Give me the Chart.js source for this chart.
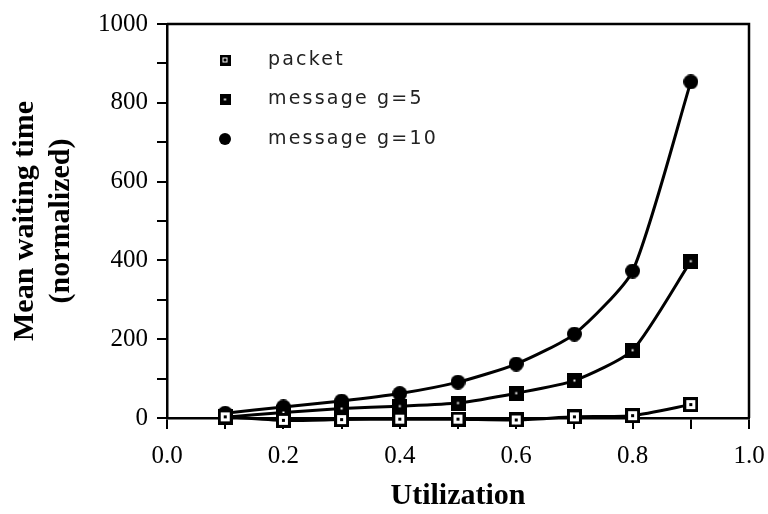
<!DOCTYPE html>
<html>
<head>
<meta charset="utf-8">
<script src="https://cdn.jsdelivr.net/npm/chart.js@4.4.1/dist/chart.umd.min.js"></script>
<style>
    html, body { margin: 0; padding: 0; background: #fff; }
    #wrap { width: 768px; height: 514px; }
</style>
</head>
<body>
<div id="wrap"><canvas id="myWaitChart" width="768" height="514"></canvas></div>
<script>
// Mean waiting time vs utilization
const utilization = [0.1, 0.2, 0.3, 0.4, 0.5, 0.6, 0.7, 0.8, 0.9]
const packetWait = [3, -6, -4, -3, -3, -5, 3, 6, 34]
const messageG5Wait = [2, 14, 24, 30, 38, 63, 95, 172, 398]
const messageG10Wait = [12, 28, 43, 62, 91, 137, 213, 373, 853]
const seriesLabels = ["packet", "message g=5", "message g=10"]
const xTitle = "Utilization"
const yTitle = ["Mean waiting time", "(normalized)"]

// little bitmap markers like the original plot
function makeMarker(kind, size) {
    const c = document.createElement("canvas")
    c.width = size
    c.height = size
    const g = c.getContext("2d")
    const m = size / 2
    g.fillStyle = "#000"
    if (kind === "circle") {
        g.beginPath()
        g.arc(m, m, m, 0, Math.PI * 2)
        g.fill()
    } else if (kind === "open") {
        g.fillRect(0, 0, size, size)
        g.fillStyle = "#fff"
        g.fillRect(3, 3, size - 6, size - 6)
        g.fillStyle = "#000"
        g.fillRect(m - 1.5, m - 1.5, 3, 3)
    } else {
        g.fillRect(0, 0, size, size)
        g.fillStyle = "#fff"
        g.fillRect(m - 1, m - 1, 2, 2)
    }
    return c
}

const chartMarkers = [makeMarker("open", 15), makeMarker("filled", 15), makeMarker("circle", 15)]
const legendMarkers = [makeMarker("open", 11), makeMarker("filled", 11), makeMarker("circle", 12)]

function points(values) {
    return utilization.map((u, i) => ({ x: u, y: values[i] }))
}

const allSeries = [packetWait, messageG5Wait, messageG10Wait]
const datasets = allSeries.map((vals, i) => ({
    label: seriesLabels[i],
    data: points(vals),
    borderColor: "#000",
    borderWidth: 3,
    pointStyle: chartMarkers[i],
    pointRadius: 8,
    tension: 0.2,
    clip: false,
}))

// frame on top and right side
const framePlugin = {
    id: "frame",
    beforeDatasetsDraw(chart) {
        const a = chart.chartArea
        const ctx = chart.ctx
        ctx.save()
        ctx.strokeStyle = "#000"
        ctx.lineWidth = 2.5
        ctx.beginPath()
        ctx.moveTo(a.left, a.top)
        ctx.lineTo(a.right, a.top)
        ctx.lineTo(a.right, a.bottom)
        ctx.stroke()
        ctx.restore()
    },
}

// legend sits inside the plot, upper left
const insideLegend = {
    id: "insideLegend",
    afterDraw(chart) {
        const a = chart.chartArea
        const ctx = chart.ctx
        ctx.save()
        ctx.font = "19px 'DejaVu Sans'"
        ctx.letterSpacing = "2.2px"
        ctx.fillStyle = "#222"
        ctx.textBaseline = "middle"
        seriesLabels.forEach((lab, i) => {
            const y = a.top + 36 + i * 39.5
            const mk = legendMarkers[i]
            ctx.drawImage(mk, a.left + 58 - mk.width / 2, y - mk.height / 2)
            ctx.fillText(lab, a.left + 101, y)
        })
        ctx.restore()
    },
}

var ctx = document.getElementById("myWaitChart").getContext("2d")
const config = {
    type: "line",
    data: { datasets: datasets },
    options: {
        responsive: false,
        animation: false,
        layout: { padding: { top: 21, right: 19, left: 0, bottom: 0 } },
        plugins: {
            legend: { display: false },
            tooltip: { enabled: false },
        },
        scales: {
            x: {
                type: "linear",
                min: 0,
                max: 1,
                border: { color: "#000", width: 2.5 },
                grid: { drawOnChartArea: false, color: "#000", lineWidth: 2, tickLength: 11 },
                ticks: {
                    stepSize: 0.1,
                    color: "#000",
                    padding: 12,
                    maxRotation: 0,
                    autoSkip: false,
                    font: { family: "Liberation Serif", size: 25 },
                    callback: (v) => (Math.round(v * 10) % 2 === 0 ? v.toFixed(1) : ""),
                },
                title: {
                    display: true,
                    text: xTitle,
                    color: "#000",
                    padding: { top: 0, bottom: 0 },
                    font: { family: "Liberation Serif", size: 30, weight: "bold", lineHeight: 1.2 },
                },
                afterFit: (scale) => {
                    scale.height = 96
                    scale.paddingRight = 0
                    scale.paddingLeft = 0
                },
            },
            y: {
                type: "linear",
                min: 0,
                max: 1000,
                border: { color: "#000", width: 2.5 },
                grid: { drawOnChartArea: false, color: "#000", lineWidth: 2, tickLength: 10 },
                ticks: {
                    stepSize: 100,
                    color: "#000",
                    padding: 9,
                    autoSkip: false,
                    font: { family: "Liberation Serif", size: 25 },
                    callback: (v) => (v % 200 === 0 ? String(v) : ""),
                },
                title: {
                    display: true,
                    text: yTitle,
                    color: "#000",
                    padding: { top: 7, bottom: 0 },
                    font: { family: "Liberation Serif", size: 30, weight: "bold", lineHeight: 1.2 },
                },
                afterFit: (scale) => { scale.width = 167 },
            },
        },
    },
    plugins: [framePlugin, insideLegend],
}
var myWaitChart = new Chart(ctx, config)
</script>
</body>
</html>
